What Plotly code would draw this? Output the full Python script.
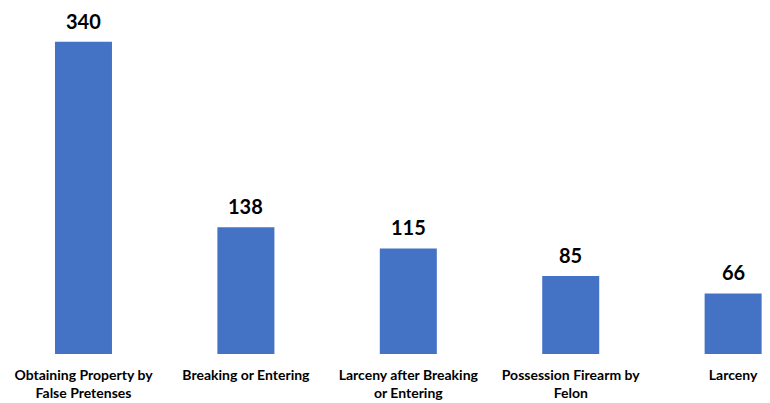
import plotly.graph_objects as go

categories = ["Obtaining Property by<br>False Pretenses", "Breaking or Entering",
              "Larceny after Breaking<br>or Entering", "Possession Firearm by<br>Felon", "Larceny"]
values = [340, 138, 115, 85, 66]

xs = list(range(len(categories)))
fig = go.Figure(go.Bar(
    x=xs, y=values,
    marker=dict(color="#4472C4", line=dict(width=0)),
))
for x, v in zip(xs, values):
    fig.add_annotation(x=x, y=v, text=str(v), showarrow=False, yanchor="bottom", yshift=7,
                       font=dict(family="Lato", size=20, color="black", weight="bold"))
fig.update_layout(
    width=770, height=403, margin=dict(l=0, r=0, t=0, b=49),
    paper_bgcolor="white", plot_bgcolor="white", bargap=0.649, showlegend=False,
    xaxis=dict(tickmode="array", tickvals=xs, ticktext=categories,
               range=[-0.514, 4.227], showgrid=False, zeroline=False, showline=False,
               tickfont=dict(family="Lato", size=14, color="black", weight="bold"), ticklen=0,
               ticklabelstandoff=11, automargin=False),
    yaxis=dict(range=[0, 385.6], visible=False),
)
fig.write_html("out.html", post_script="document.body.style.margin='0';",
               config={"displayModeBar": False})
